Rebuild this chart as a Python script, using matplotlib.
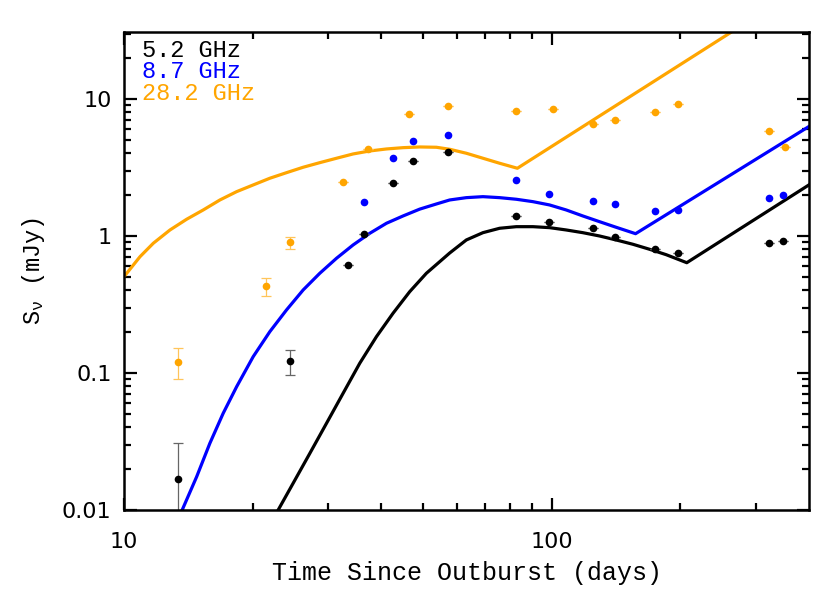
import numpy as np
import matplotlib
matplotlib.use('Agg')
import matplotlib.pyplot as plt
from matplotlib.ticker import LogLocator, FixedLocator, NullFormatter, FixedFormatter

# observed flux densities (mJy) vs days since outburst
t_52 = [13.4, 24.4, 33.4, 36.4, 42.5, 47.3, 57.2, 82.6, 98.4, 124.7, 141, 175, 198, 323, 348]
s_52 = [0.0168, 0.1225, 0.614, 1.034, 2.44, 3.52, 4.10, 1.40, 1.26, 1.14, 0.98, 0.80, 0.75, 0.89, 0.92]
s_52_lo = [0.0018, 0.0967, 0.614, 1.034, 2.44, 3.52, 4.10, 1.40, 1.26, 1.14, 0.98, 0.80, 0.75, 0.89, 0.92]
s_52_hi = [0.0308, 0.147, 0.614, 1.034, 2.44, 3.52, 4.10, 1.40, 1.26, 1.14, 0.98, 0.80, 0.75, 0.89, 0.92]

t_87 = [36.4, 42.5, 47.3, 57.2, 82.6, 98.4, 124.7, 141, 175, 198, 323, 348]
s_87 = [1.77, 3.71, 4.93, 5.46, 2.56, 2.03, 1.80, 1.71, 1.52, 1.55, 1.89, 1.99]

t_282 = [13.4, 21.5, 24.4, 32.5, 37.2, 46.3, 57.2, 82.6, 101, 124.7, 141, 175, 198, 323, 352]
s_282 = [0.120, 0.432, 0.904, 2.48, 4.31, 7.78, 8.89, 8.17, 8.45, 6.58, 7.03, 8.04, 9.21, 5.84, 4.47]
s_282_lo = [0.0904, 0.366, 0.81, 2.48, 4.31, 7.78, 8.89, 8.17, 8.45, 6.58, 7.03, 8.04, 9.21, 5.84, 4.47]
s_282_hi = [0.152, 0.497, 0.99, 2.48, 4.31, 7.78, 8.89, 8.17, 8.45, 6.58, 7.03, 8.04, 9.21, 5.84, 4.47]

# model curves
m_52_t = [22.94, 24.86, 27.21, 29.76, 32.54, 35.59, 38.94, 42.58, 46.58, 50.95,
          57.77, 63.19, 69.10, 75.59, 82.72, 90.44, 98.93, 108.2, 118.3, 129.4, 141.6,
          154.9, 169.4, 185.4, 207.1, 400]
m_52_s = [0.01, 0.01566, 0.02594, 0.04294, 0.07108, 0.1177, 0.1841, 0.2728, 0.3921, 0.5341,
          0.751, 0.935, 1.057, 1.138, 1.169, 1.169, 1.150, 1.106, 1.057, 1.0, 0.935,
          0.870, 0.800, 0.730, 0.638, 2.36]

m_87_t = [13.68, 14.79, 15.88, 17.06, 18.34, 20.05, 21.93, 23.99, 26.24, 28.70, 31.41, 34.34,
          37.57, 41.10, 44.95, 49.16, 53.78, 57.77, 63.19, 69.10, 75.59, 82.72, 90.44, 98.93,
          108.2, 118.3, 129.4, 141.6, 157.2, 400]
m_87_s = [0.01, 0.0175, 0.0307, 0.0508, 0.0794, 0.1315, 0.2002, 0.2884, 0.4034, 0.5341, 0.6876, 0.8597,
          1.046, 1.238, 1.40, 1.57, 1.712, 1.831, 1.904, 1.936, 1.904, 1.853, 1.780, 1.684,
          1.548, 1.400, 1.272, 1.157, 1.039, 6.3]

m_282_t = [10, 10.90, 11.71, 12.81, 14.01, 15.32, 16.76, 18.34, 20.05, 21.93, 23.99, 26.24, 28.70,
           31.41, 34.34, 37.57, 41.10, 44.95, 49.16, 53.78, 57.77, 63.19, 69.10, 75.59, 83.18, 400]
m_282_s = [0.5045, 0.706, 0.885, 1.106, 1.324, 1.548, 1.831, 2.106, 2.357, 2.638, 2.897, 3.173, 3.428,
           3.692, 3.968, 4.173, 4.315, 4.411, 4.463, 4.440, 4.293, 4.015, 3.692, 3.394, 3.120, 70.6]

plt.rcParams['mathtext.default'] = 'regular'

fig = plt.figure(figsize=(8.3, 5.93), dpi=100)
ax = fig.add_axes([0.1494, 0.1400, 0.8253, 0.8060])

ax.plot(m_282_t, m_282_s, color='orange', lw=2.3)
ax.plot(m_87_t, m_87_s, color='blue', lw=2.3)
ax.plot(m_52_t, m_52_s, color='black', lw=2.3)

def ebar(t, s, lo, hi, col, ecol):
    s = np.array(s)
    err = [s - np.array(lo), np.array(hi) - s]
    ax.errorbar(t, s, yerr=err, fmt='none', ecolor=ecol, elinewidth=0.9, capsize=3.5, capthick=0.9)
    ax.plot(t, s, 'o', color=col, ms=5.5, mec='none')

ebar(t_52, s_52, s_52_lo, s_52_hi, 'black', '#666666')
ax.plot(t_87, s_87, 'o', color='blue', ms=5.5, mec='none')
ebar(t_282, s_282, s_282_lo, s_282_hi, 'orange', '#ffc55a')

ax.set_xscale('log')
ax.set_yscale('log')
ax.set_xlim(10, 400)
ax.set_ylim(0.01, 30.8)

ax.xaxis.set_major_locator(FixedLocator([10, 100]))
ax.xaxis.set_major_formatter(FixedFormatter(['10', '100']))
ax.xaxis.set_minor_locator(FixedLocator([20, 30, 40, 50, 60, 70, 80, 90, 200, 300]))
ax.xaxis.set_minor_formatter(NullFormatter())
ax.yaxis.set_major_locator(FixedLocator([0.01, 0.1, 1, 10]))
ax.yaxis.set_major_formatter(FixedFormatter(['0.01', '0.1', '1', '10']))
ax.yaxis.set_minor_locator(LogLocator(base=10, subs=np.arange(2, 10), numticks=20))
ax.yaxis.set_minor_formatter(NullFormatter())

ax.tick_params(which='both', direction='in', top=True, right=True, width=1.6)
ax.tick_params(which='major', length=9)
ax.tick_params(which='minor', length=5)
ax.tick_params(axis='x', which='major', pad=16, labelsize=16)
ax.tick_params(axis='y', which='major', pad=9, labelsize=16)
for sp in ax.spines.values():
    sp.set_linewidth(1.8)

ax.set_xlabel('Time Since Outburst (days)', family='Liberation Mono', fontsize=18, labelpad=6)
ax.set_ylabel(r'S$_\nu$ (mJy)', family='Liberation Mono', fontsize=17, labelpad=11)

labels = ['5.2 GHz', '8.7 GHz', '28.2 GHz']
colors = ['black', 'blue', 'orange']
for i, (lab, c) in enumerate(zip(labels, colors)):
    ax.text(0.026, 0.948 - i * 0.045, lab, color=c, transform=ax.transAxes,
            family='Liberation Mono', fontsize=17, va='baseline', ha='left')

fig.savefig('out.png', dpi=100)
